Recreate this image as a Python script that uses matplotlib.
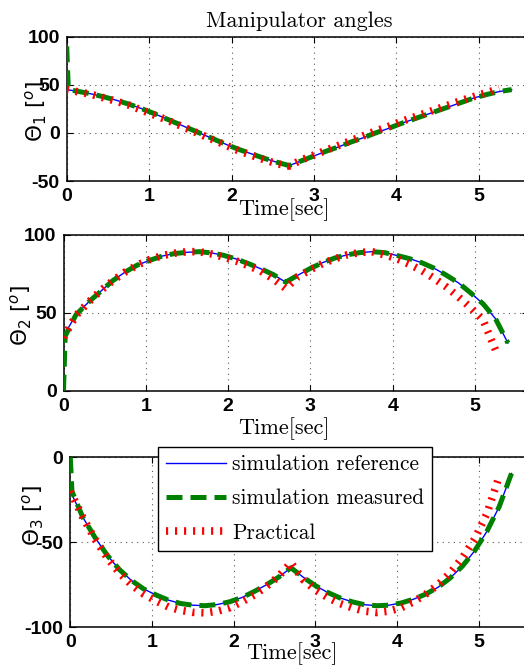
import matplotlib
matplotlib.use('Agg')
import matplotlib.pyplot as plt
import numpy as np

# time grid (s)
t_ref = [0.0, 0.15, 0.3, 0.45, 0.6, 0.75, 0.9, 1.05, 1.2, 1.35, 1.5, 1.65,
         1.8, 1.95, 2.1, 2.25, 2.4, 2.55, 2.7, 2.85, 3.0, 3.15, 3.3, 3.45,
         3.6, 3.75, 3.9, 4.05, 4.2, 4.35, 4.5, 4.65, 4.8, 4.95, 5.1, 5.25, 5.4]
t_prac = t_ref[:36]
t_meas = [0.0, 0.02] + t_ref[1:]

# joint 1
theta1_ref = [45, 43, 40.5, 37.5, 34, 30, 25.5, 20.5, 15, 9.5, 4, -1.5, -7, -12.5,
              -17.5, -22, -26.5, -30.5, -34, -29, -24, -19, -14.5, -9.5, -5, 0,
              4.5, 9.5, 14, 18.5, 23, 27.5, 32, 36.5, 40, 43, 45]
theta1_meas_start = [90, 45]
theta1_prac = [45, 42.5, 40, 36.5, 33, 29, 24, 19, 14, 8.5, 3, -2.5, -8, -13.5,
               -19, -23.5, -28, -32, -34.5, -28, -23, -18, -13, -8, -3, 2,
               6.5, 11.5, 16, 20.5, 25, 29.5, 34, 38, 42, 46]

# joint 2
theta2_ref = [35, 48.5, 56.5, 63.5, 70.5, 76, 80.5, 83.5, 86.2, 87.8, 88.6, 89,
              88.2, 86.6, 84.3, 81.3, 78, 74.3, 69.5, 74, 78.3, 82, 85, 87,
              88.4, 89, 88.4, 86.6, 84.6, 82, 78.5, 74, 69, 62.5, 55.5, 46, 30.5]
theta2_meas_start = [0, 35]
theta2_prac = [34, 48, 56.5, 64, 70.5, 76, 80.5, 84, 86.5, 88, 89, 89,
               87.5, 85.5, 83, 80, 76.5, 71.5, 65.5, 73, 77.5, 81.5, 84.5, 87,
               88.5, 89, 87, 84.5, 81, 77, 72, 66.5, 60, 53, 45, 26]

# joint 3
theta3_ref = [-20, -35, -47, -57.5, -66, -72.5, -77.5, -81, -84, -86, -87, -87.3,
              -86.6, -85, -82.5, -79, -75, -70.5, -65, -70.5, -75.5, -79.5, -82.7, -85,
              -86.7, -87.3, -87, -85.7, -83.5, -80.5, -76.5, -71, -64, -55, -43.5, -29, -9.5]
theta3_meas_start = [0, -20]
theta3_prac = [-20, -35, -48, -59, -68, -75, -80.5, -84.5, -88, -90, -91.2, -91.5,
               -90.5, -88.5, -85, -81, -76, -70, -62, -72, -78, -82.5, -86, -88.5,
               -90.5, -91.3, -90.5, -88.5, -85, -80.5, -75, -68, -59, -48, -33, -11]

ylims = [(-50, 100), (0, 100), (-100, 0)]
yticks = [[-50, 0, 50, 100], [0, 50, 100], [-100, -50, 0]]
xticks = [0, 1, 2, 3, 4, 5]
ylabels = [r'$\Theta_1$ [$^o$]', r'$\Theta_2$ [$^o$]', r'$\Theta_3$ [$^o$]']

W, H = 524, 670
# axes boxes in pixels: left, top, bottom, px per second
boxes = [(66.7, 36.7, 181.0, 82.4), (63.5, 234.5, 390.7, 82.3), (70.3, 457.3, 627.3, 81.7)]
xlabel_pos = [(284, 198), (284, 417), (292, 642)]
ylabel_pos = [(36, 111), (21, 315), (33, 515)]
xmax = 5.65

fig = plt.figure(figsize=(W / 100, H / 100), dpi=100)

series = [(theta1_ref, theta1_meas_start, theta1_prac),
          (theta2_ref, theta2_meas_start, theta2_prac),
          (theta3_ref, theta3_meas_start, theta3_prac)]

tick_font = {'family': 'Liberation Sans', 'weight': 'bold', 'size': 14}

axes = []
for i, (ref, meas_start, prac) in enumerate(series):
    left, top, bottom, scale = boxes[i]
    width = xmax * scale
    ax = fig.add_axes([left / W, 1 - bottom / H, width / W, (bottom - top) / H])
    meas = meas_start + ref[1:]
    ax.plot(t_ref, ref, color='#0000ff', lw=1.0, label='simulation reference', zorder=3)
    ax.plot(t_meas, meas, color='#008000', lw=3.6, linestyle=(0, (3.2, 1.6)),
            label='simulation measured', zorder=4)
    ax.plot(t_prac, prac, color='#ff0000', lw=5.5, linestyle=(0, (0.28, 0.9)),
            label='Practical', zorder=5)

    ax.set_xlim(0, xmax)
    ax.set_ylim(*ylims[i])
    ax.set_xticks(xticks)
    ax.set_xticklabels([str(v) for v in xticks], fontdict=tick_font)
    ax.set_yticks(yticks[i])
    ax.set_yticklabels([str(v) for v in yticks[i]], fontdict=tick_font)
    ax.grid(True, color='0.35', linestyle=(0, (1, 4)), lw=0.8)
    ax.tick_params(direction='in', top=True, right=True, length=4, width=0.8, pad=5)
    for sp in ax.spines.values():
        sp.set_linewidth(1.1)

    ax.set_xlabel('Time[sec]', fontfamily='cmr10', fontsize=16)
    ax.xaxis.set_label_coords((xlabel_pos[i][0] - left) / width,
                              -(xlabel_pos[i][1] - bottom) / (bottom - top))
    ax.set_ylabel(ylabels[i], fontsize=15.5, va='center')
    ax.yaxis.set_label_coords((ylabel_pos[i][0] - left) / width,
                              (bottom - ylabel_pos[i][1]) / (bottom - top))
    axes.append(ax)

axes[0].set_title('Manipulator angles', fontfamily='cmr10', fontsize=16, pad=7)

leg = axes[2].legend(loc='upper left', bbox_to_anchor=(157.7 / W, 1 - 446.7 / H),
                     bbox_transform=fig.transFigure, borderaxespad=0,
                     prop={'family': 'cmr10', 'size': 15.4}, handlelength=2.8,
                     handletextpad=0.3, labelspacing=0.68, borderpad=0.38,
                     fancybox=False, framealpha=1, edgecolor='black')
leg.get_frame().set_linewidth(1.0)
leg.set_zorder(10)

fig.savefig('out.png', dpi=100)
